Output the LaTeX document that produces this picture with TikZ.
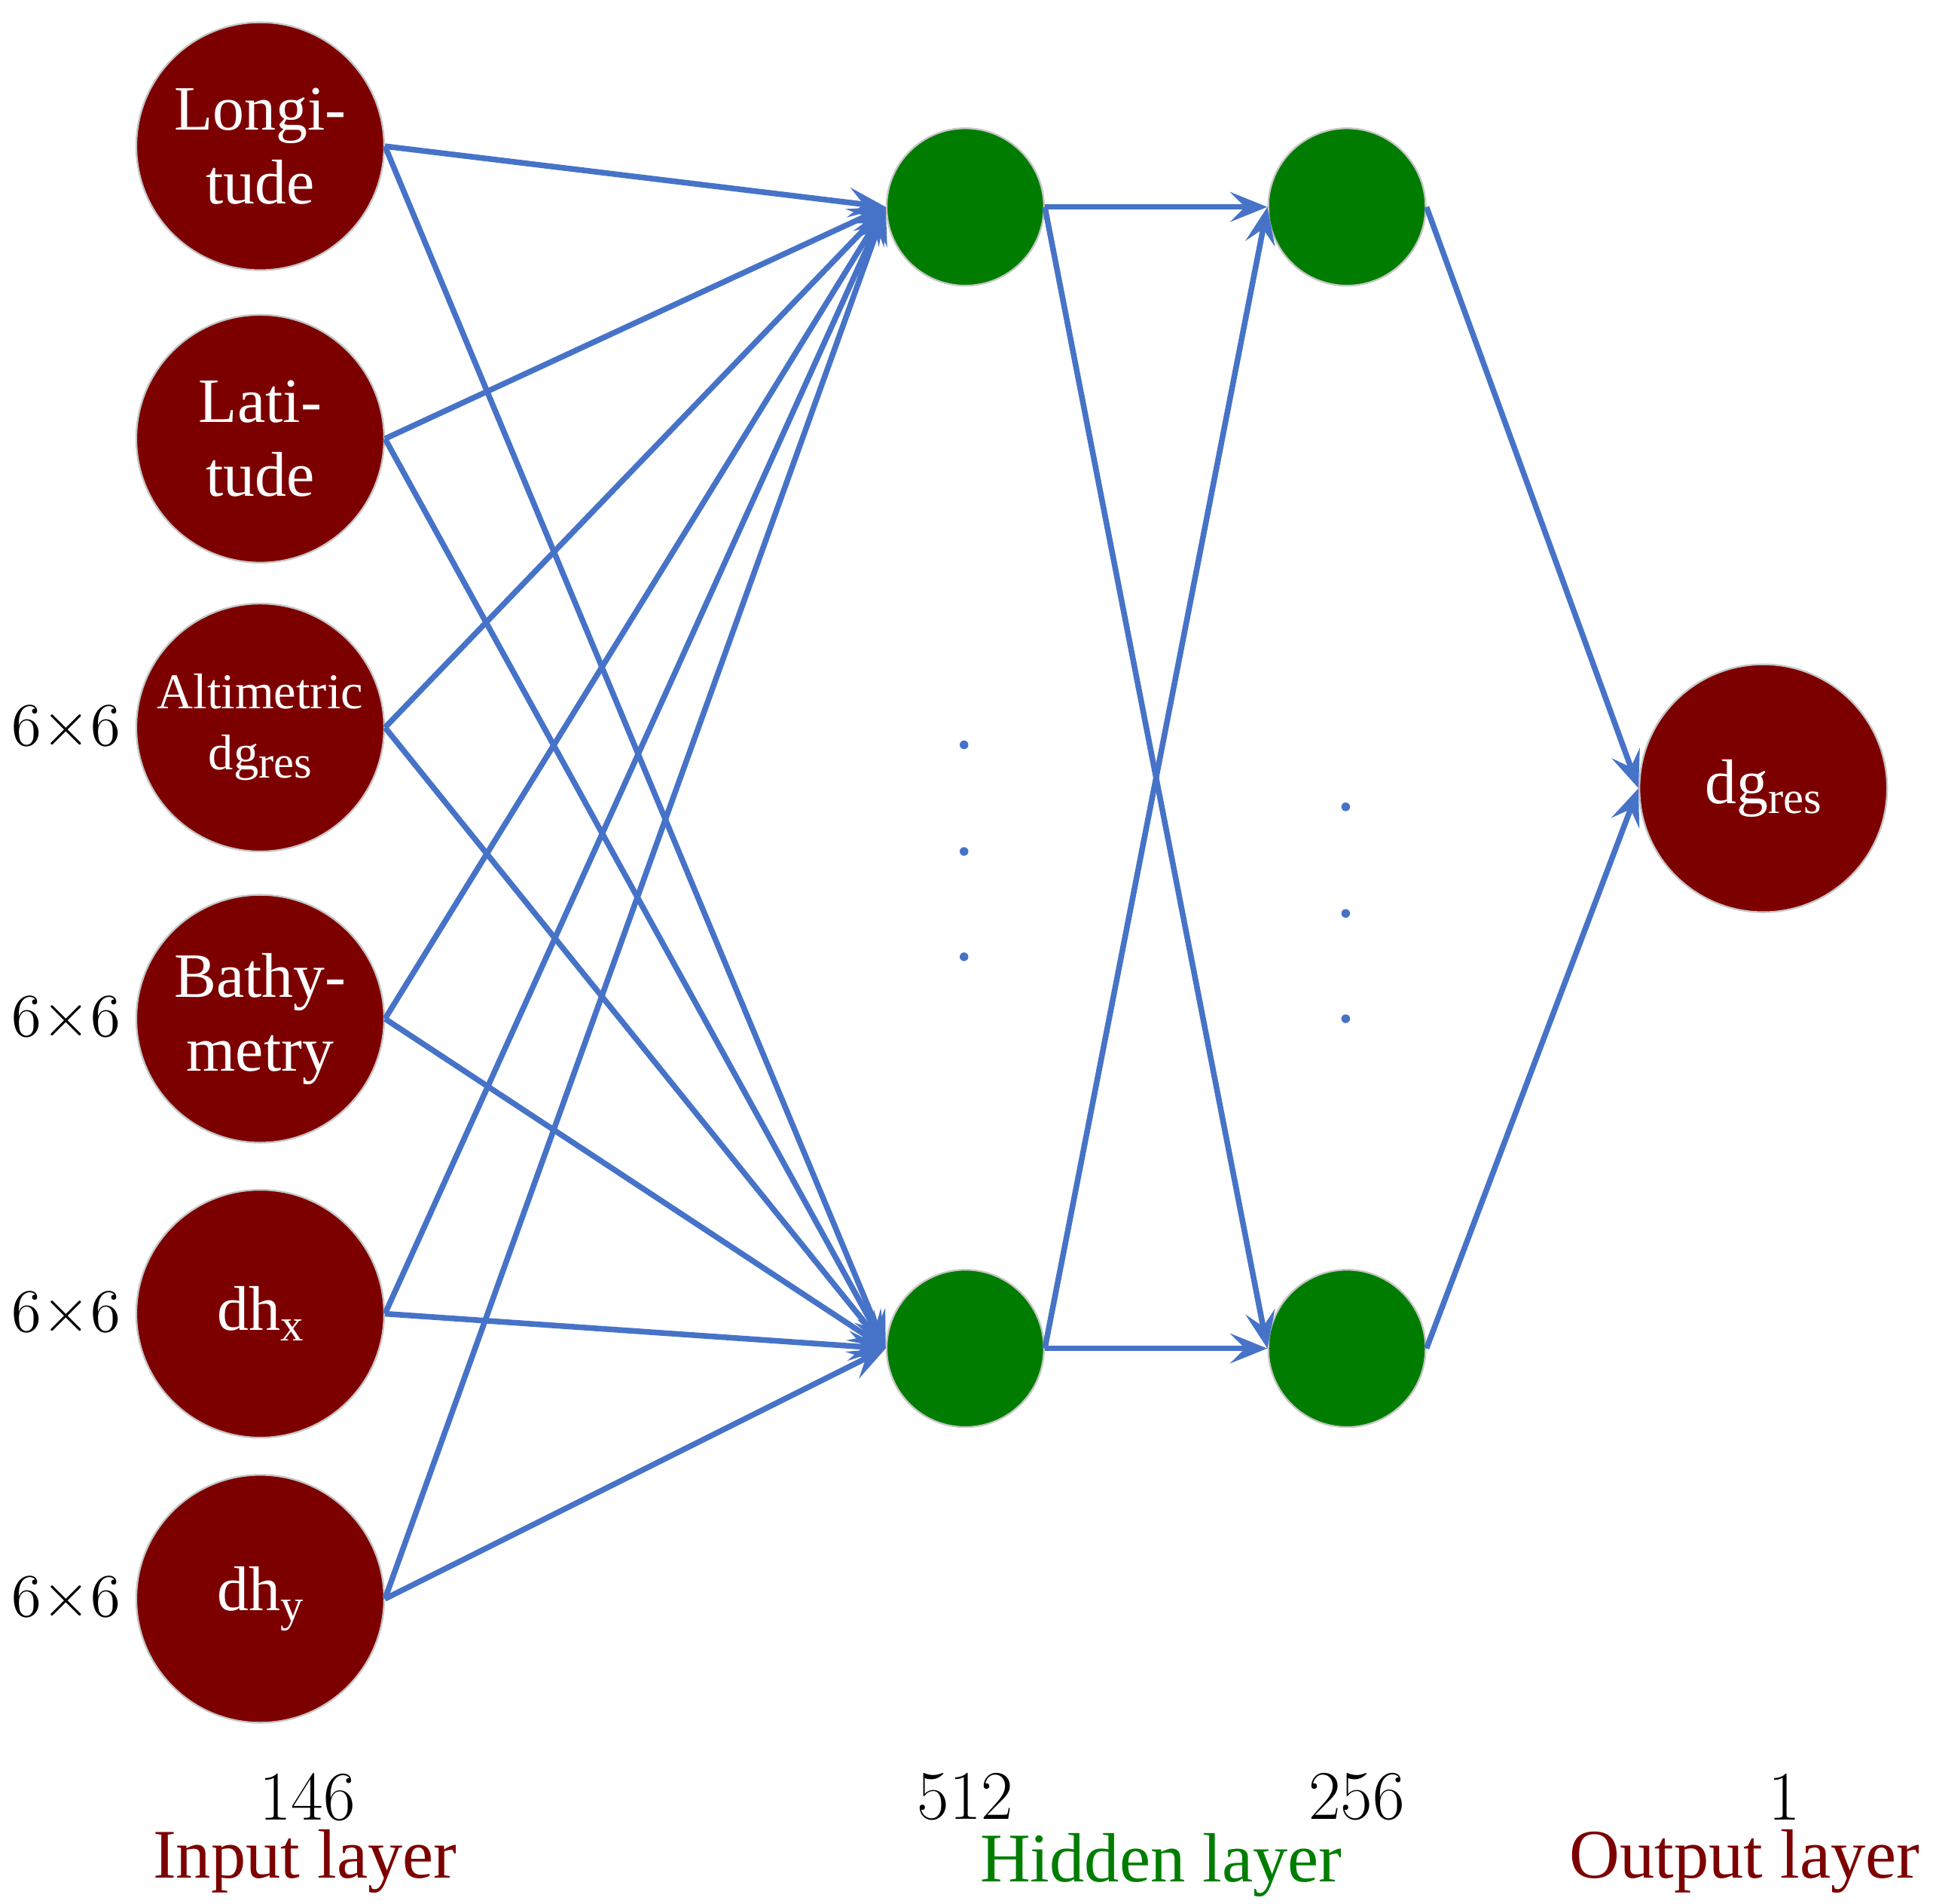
\documentclass[tikz,border=0pt]{standalone}
\usepackage{fontspec}
\newfontfamily\tnr{Liberation Serif}
\usetikzlibrary{positioning,arrows.meta}
\definecolor{inred}{RGB}{125,0,0}
\definecolor{hidgreen}{RGB}{0,125,0}
\definecolor{edgeblue}{RGB}{70,115,200}
\tikzstyle{arrow} = [edgeblue,line width=1.3pt,-{Stealth[length=3mm,width=2.4mm,inset=1.2mm]}]
\newcommand{\sbs}[1]{\raisebox{-0.35ex}{\fontsize{10.5}{10.5}\selectfont #1}}

\begin{document}
\begin{tikzpicture}[x=1cm,y=1cm]
\tikzset{inp/.style={circle,draw=gray!45,fill=inred,minimum size=2cm,inner sep=0pt,text=white,align=center,font=\tnr\fontsize{14.5}{17}\selectfont},
hid/.style={circle,draw=gray!45,fill=hidgreen,minimum size=1.27cm,inner sep=0pt},
dim/.style={font=\fontsize{14}{14}\selectfont,inner sep=1pt},
cnt/.style={font=\fontsize{16}{16}\selectfont,inner sep=1pt},
lay/.style={font=\tnr\fontsize{16}{16}\selectfont,inner sep=1pt}}
\useasboundingbox (0,0) rectangle (15.6,-15.36);

% input layer
\node[inp] (in1) at (2.1,-1.18) {Longi-\\tude};
\node[inp] (in2) at (2.1,-3.54) {Lati-\\tude};
\node[inp,font=\tnr\fontsize{11.5}{14}\selectfont] (in3) at (2.1,-5.87) {Altimetric\\dg\sbs{res}};
\node[inp] (in4) at (2.1,-8.22) {Bathy-\\metry};
\node[inp] (in5) at (2.1,-10.6) {dh\sbs{x}};
\node[inp] (in6) at (2.1,-12.9) {dh\sbs{y}};

% hidden layers
\node[hid] (h1a) at (7.79,-1.67) {};
\node[hid] (h1b) at (7.79,-10.88) {};
\node[hid] (h2a) at (10.87,-1.67) {};
\node[hid] (h2b) at (10.87,-10.88) {};

% output layer
\node[inp] (out) at (14.23,-6.36) {dg\sbs{res}};

\foreach \i in {1,...,6}{
  \draw [arrow] (in\i.east) -- (h1a.west);
  \draw [arrow] (in\i.east) -- (h1b.west);
}
\foreach \a in {h1a,h1b}{
  \draw [arrow] (\a.east) -- (h2a.west);
  \draw [arrow] (\a.east) -- (h2b.west);
}
\draw [arrow] (h2a.east) -- (out.west);
\draw [arrow] (h2b.east) -- (out.west);

% dots
\foreach \y in {6.01,6.87,7.72} \fill[edgeblue] (7.78,-\y) circle (0.035);
\foreach \y in {6.51,7.37,8.22} \fill[edgeblue] (10.86,-\y) circle (0.035);

% sizes
\node[dim,left=0.08cm of in3] (d3) {6$\times$6};
\node[dim,left=0.08cm of in4] (d4) {6$\times$6};
\node[dim,left=0.08cm of in5] (d5) {6$\times$6};
\node[dim,left=0.08cm of in6] (d6) {6$\times$6};

\node[cnt] (n1) at (2.48,-14.5) {146};
\node[cnt] (n2) at (7.79,-14.5) {512};
\node[cnt] (n3) at (10.95,-14.5) {256};
\node[cnt] (n4) at (14.4,-14.5) {1};
\node[lay,text=inred] (l1) at (2.46,-15.02) {Input layer};
\node[lay,text=hidgreen] (l2) at (9.37,-15.05) {Hidden layer};
\node[lay,text=inred] (l3) at (14.08,-15.02) {Output layer};
\end{tikzpicture}
\end{document}
